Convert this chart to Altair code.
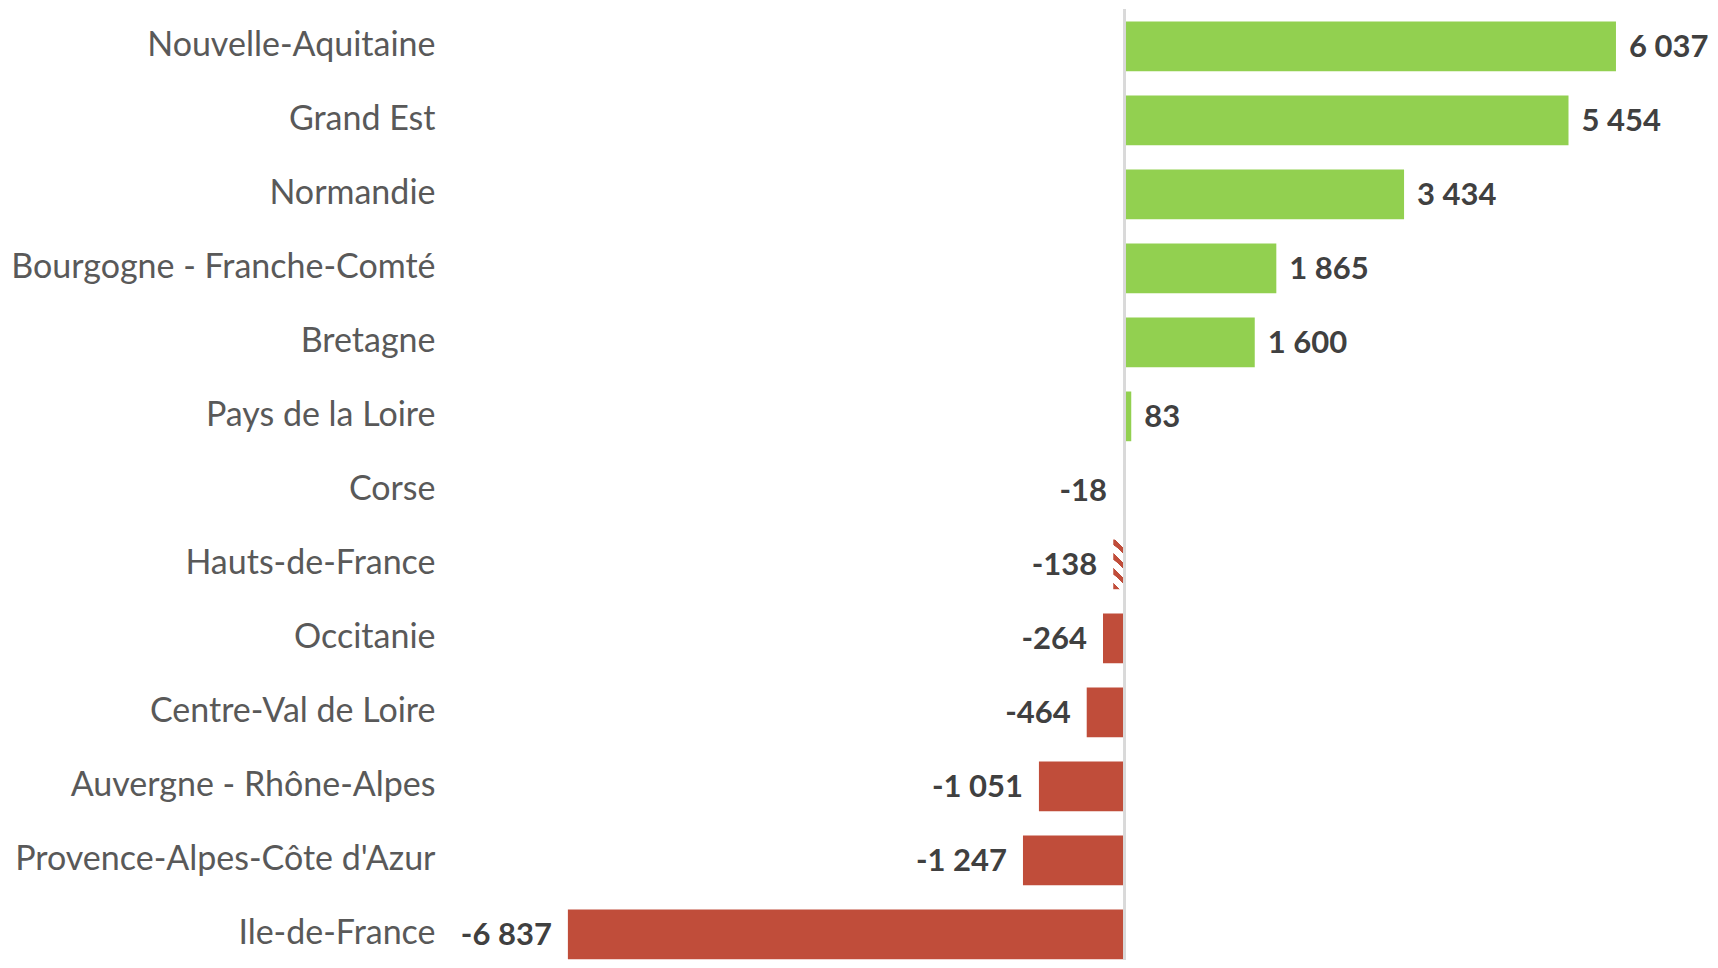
import altair as alt
import pandas as pd

regions = [
    "Nouvelle-Aquitaine", "Grand Est", "Normandie", "Bourgogne - Franche-Comté",
    "Bretagne", "Pays de la Loire", "Corse", "Hauts-de-France", "Occitanie",
    "Centre-Val de Loire", "Auvergne - Rhône-Alpes", "Provence-Alpes-Côte d'Azur",
    "Ile-de-France",
]
values = [6037, 5454, 3434, 1865, 1600, 83, -18, -138, -264, -464, -1051, -1247, -6837]
hatched = ["Hauts-de-France"]

labels = [f"{v:,}".replace(",", " ") for v in values]
kind = ["hatch" if r in hatched else ("pos" if v > 0 else "neg") for r, v in zip(regions, values)]
pos_lab = [l if v > 0 else "" for l, v in zip(labels, values)]
neg_lab = [l if v < 0 else "" for l, v in zip(labels, values)]
is_hatch = [1 if r in hatched else 0 for r in regions]

df = pd.DataFrame({
    "region": regions, "value": values, "kind": kind,
    "pos_lab": pos_lab, "neg_lab": neg_lab, "is_hatch": is_hatch,
})

W, H = 1260, 951
GREEN = "#92D050"
RED = "#C04D3A"

xs = alt.Scale(domain=[-8285, 7192], nice=False, zero=False)
ys = alt.Scale(paddingInner=0.328, paddingOuter=0.09, align=0.94)

y_enc = alt.Y(
    "region:N", sort=regions, scale=ys, title=None,
    axis=alt.Axis(ticks=False, domain=False, labelPadding=15, labelAlign="right",
                  labelFont="Lato", labelFontSize=34, labelColor="#595959",
                  labelLimit=1000),
)
y_plain = alt.Y("region:N", sort=regions, scale=ys)
x_enc = alt.X("value:Q", scale=xs, axis=None)

base = alt.Chart(df)

bars = base.mark_bar().encode(
    x=x_enc, y=y_enc,
    color=alt.Color("kind:N", scale=alt.Scale(domain=["pos", "neg", "hatch"],
                                               range=[GREEN, RED, "#ffffff"]), legend=None),
)

stops = []
n = 4
for i in range(n):
    a = i / n
    b = a + 0.4 / n
    c = (i + 1) / n
    stops += [
        {"offset": round(a, 4), "color": RED},
        {"offset": round(b, 4), "color": RED},
        {"offset": round(b + 0.002, 4), "color": "#ffffff"},
        {"offset": round(c - 0.002, 4), "color": "#ffffff"},
    ]
grad = {"gradient": "linear", "x1": 0, "y1": 1, "x2": 0.25, "y2": -0.15, "stops": stops}

hatch = base.transform_calculate(hx="datum.is_hatch == 1 ? datum.value : 0").mark_bar(
    fill=grad, strokeWidth=0
).encode(x=alt.X("hx:Q", scale=xs, axis=None), y=y_plain)

zero = base.transform_calculate(z="0").mark_rule(color="#D9D9D9", strokeWidth=2).encode(
    x=alt.X("z:Q", scale=xs, axis=None), y=alt.value(0), y2=alt.value(H)
)

txt_pos = base.mark_text(
    align="left", baseline="middle", dx=13, dy=2, font="Lato", fontWeight="bold",
    fontSize=31, color="#404040",
).encode(x=x_enc, y=y_plain, text="pos_lab:N")

txt_neg = base.mark_text(
    align="right", baseline="middle", dx=-16, dy=2, font="Lato", fontWeight="bold",
    fontSize=31, color="#404040",
).encode(x=x_enc, y=y_plain, text="neg_lab:N")

chart = alt.layer(bars, hatch, zero, txt_pos, txt_neg).properties(
    width=W, height=H,
    autosize=alt.AutoSizeParams(type="none"),
    padding={"left": 442, "top": 1, "right": 0, "bottom": 0},
).configure_view(strokeWidth=0)

chart.save("out.html", embed_options={"renderer": "svg", "actions": False})
